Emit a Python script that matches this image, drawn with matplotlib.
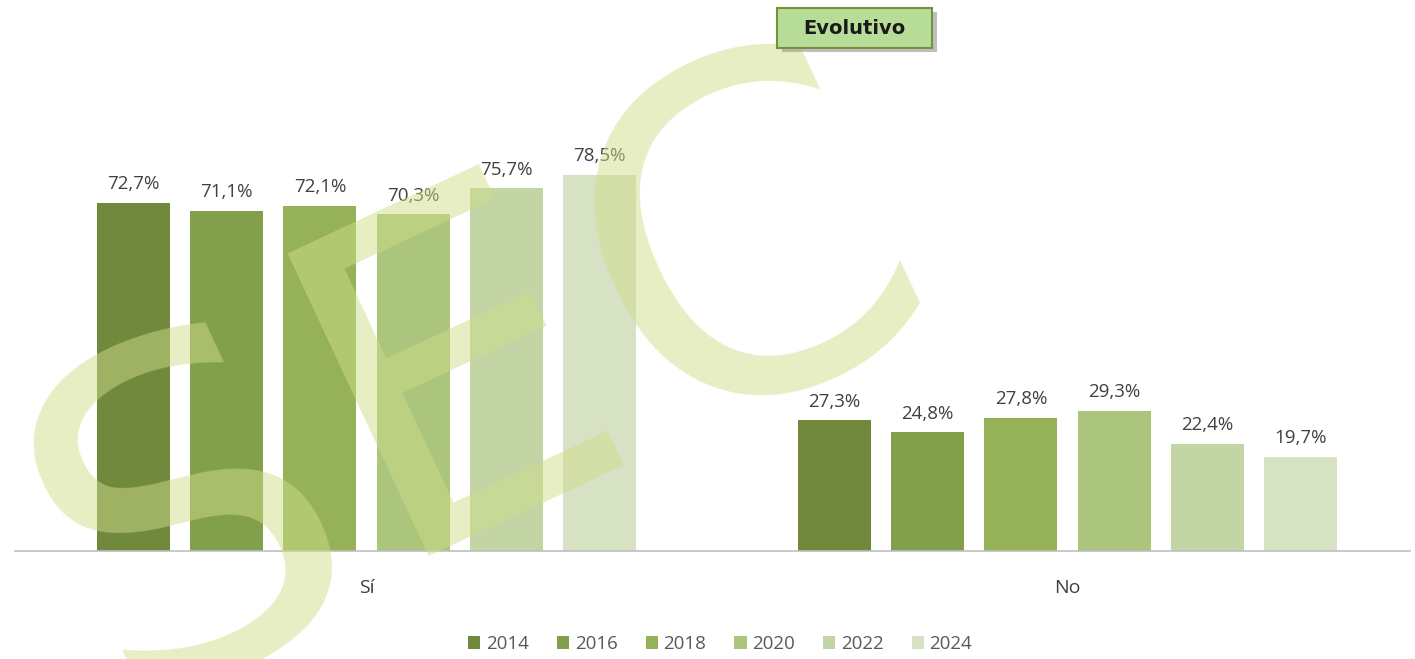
import matplotlib
matplotlib.use("Agg")
import matplotlib.pyplot as plt
from matplotlib.patches import FancyBboxPatch
import numpy as np

categories = ["Sí", "No"]
years = ["2014", "2016", "2018", "2020", "2022", "2024"]
values = {
    "2014": [72.7, 27.3],
    "2016": [71.1, 24.8],
    "2018": [72.1, 27.8],
    "2020": [70.3, 29.3],
    "2022": [75.7, 22.4],
    "2024": [78.5, 19.7],
}
colors = ["#71893D", "#82A04B", "#95B258", "#ABC57C", "#C3D4A5", "#D7E2C4"]

plt.rcParams['font.family'] = ['Open Sans', 'DejaVu Sans']

W, H = 1415, 659
fig = plt.figure(figsize=(W/100, H/100), dpi=100)
ax = fig.add_axes([15/W, 1-551/H, 1395/W, 431/H])

x = np.arange(len(categories))
width = 0.104
step = 0.133
for i, (yr, c) in enumerate(zip(years, colors)):
    off = (i - 2.5) * step
    bars = ax.bar(x + off, values[yr], width, color=c, label=yr, zorder=2)
    for b, v in zip(bars, values[yr]):
        ax.text(b.get_x() + b.get_width()/2, v + 2.0, f"{v:.1f}%".replace('.', ','),
                ha='center', va='bottom', fontsize=13.5, color='#404040', zorder=3)

ax.set_xlim(-0.5014, 1.4886)
ax.set_ylim(0, 90)
ax.set_yticks([])
ax.set_xticks(x)
ax.set_xticklabels(categories, fontsize=14, color='#404040')
ax.tick_params(axis='x', length=0, pad=20)
for s in ['top', 'right', 'left']:
    ax.spines[s].set_visible(False)
ax.spines['bottom'].set_color('#BFBFBF')
ax.spines['bottom'].set_linewidth(1.2)

# watermark (SEC logo letters)
wm = dict(fontsize=330, color='#CFDD8A', alpha=0.5, rotation=25, ha='center',
          va='center', rotation_mode='anchor', zorder=5, family='DejaVu Sans')
fig.text(195/W, 1-530/H, "S", **wm)
fig.text(462/W, 1-380/H, "E", **wm)
fig.text(752/W, 1-258/H, "C", **wm)

leg = fig.legend(loc='center', bbox_to_anchor=(0.509, 1-644/H), ncol=6, frameon=False,
                 fontsize=13.5, handlelength=0.65, handleheight=0.65, handletextpad=0.3,
                 columnspacing=1.5)
for t in leg.get_texts():
    t.set_color('#595959')

# title box
fig.patches.append(FancyBboxPatch((782/W, 1-52/H), 155/W, 40/H,
                                  boxstyle='square,pad=0', transform=fig.transFigure,
                                  facecolor='#8C8C8C', edgecolor='none', alpha=0.55, zorder=6))
fig.patches.append(FancyBboxPatch((777/W, 1-48/H), 155/W, 40/H,
                                  boxstyle='square,pad=0', transform=fig.transFigure,
                                  facecolor='#B7DD98', edgecolor='#76923C', linewidth=1.5, zorder=7))
fig.text(854.5/W, 1-29/H, "Evolutivo", ha='center', va='center', fontsize=14,
         fontweight='bold', color='#1A1A1A', family='DejaVu Sans', zorder=8)

fig.savefig("out.png", dpi=100)
